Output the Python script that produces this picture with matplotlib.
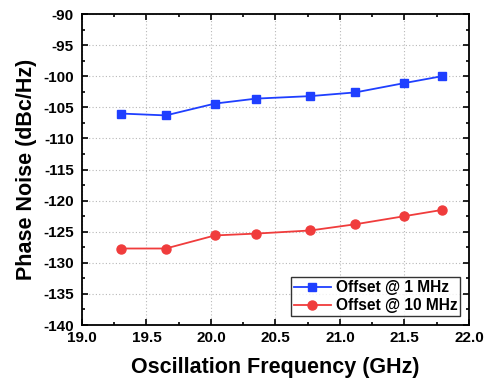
import matplotlib
matplotlib.use("Agg")
import matplotlib.pyplot as plt
from matplotlib.ticker import MultipleLocator

freq = [19.30, 19.65, 20.03, 20.35, 20.77, 21.12, 21.50, 21.79]
pn_1mhz = [-106.0, -106.3, -104.4, -103.6, -103.2, -102.6, -101.1, -100.0]
pn_10mhz = [-127.7, -127.7, -125.6, -125.3, -124.8, -123.8, -122.5, -121.5]
labels = ["Offset @ 1 MHz", "Offset @ 10 MHz"]

plt.rcParams['font.family'] = ['Liberation Sans', 'DejaVu Sans']
plt.rcParams['font.weight'] = 'bold'
plt.rcParams['axes.unicode_minus'] = False

fig = plt.figure(figsize=(4.88, 3.83), dpi=100)
ax = fig.add_axes([0.168, 0.1514, 0.793, 0.812])

ax.plot(freq, pn_1mhz, color='#1f3fff', marker='s', markersize=6, lw=1.3, label=labels[0])
ax.plot(freq, pn_10mhz, color='#f03c3c', marker='o', markersize=6.5, lw=1.3, label=labels[1])

ax.set_xlim(19.0, 22.0)
ax.set_ylim(-140, -90)
ax.xaxis.set_major_locator(MultipleLocator(0.5))
ax.xaxis.set_minor_locator(MultipleLocator(0.25))
ax.yaxis.set_major_locator(MultipleLocator(5))
ax.yaxis.set_minor_locator(MultipleLocator(2.5))
ax.tick_params(which='both', direction='in', top=True, right=True, width=1.2)
ax.tick_params(which='major', length=4.5, labelsize=11)
ax.tick_params(which='minor', length=2.5)
ax.tick_params(axis='x', which='major', pad=4)
ax.tick_params(axis='y', which='major', pad=6)
ax.xaxis.set_major_formatter(plt.FormatStrFormatter('%.1f'))
for lab in ax.get_xticklabels() + ax.get_yticklabels():
    lab.set_fontweight('bold')
for s in ax.spines.values():
    s.set_linewidth(1.3)
ax.grid(True, which='major', linestyle=(0, (1, 2)), color='#b8b8b8', lw=0.8)

ax.set_xlabel('Oscillation Frequency (GHz)', fontsize=15.5, fontweight='bold', labelpad=9)
ax.set_ylabel('Phase Noise (dBc/Hz)', fontsize=15.5, fontweight='bold', labelpad=4)

leg = ax.legend(loc='lower right', fontsize=11.2, frameon=True, fancybox=False,
                edgecolor='black', borderaxespad=0.55, handlelength=2.4,
                borderpad=0.2, labelspacing=0.2, handletextpad=0.3)
leg.get_frame().set_linewidth(1.0)
for t in leg.get_texts():
    t.set_fontweight('bold')

fig.savefig('out.png', dpi=100)
